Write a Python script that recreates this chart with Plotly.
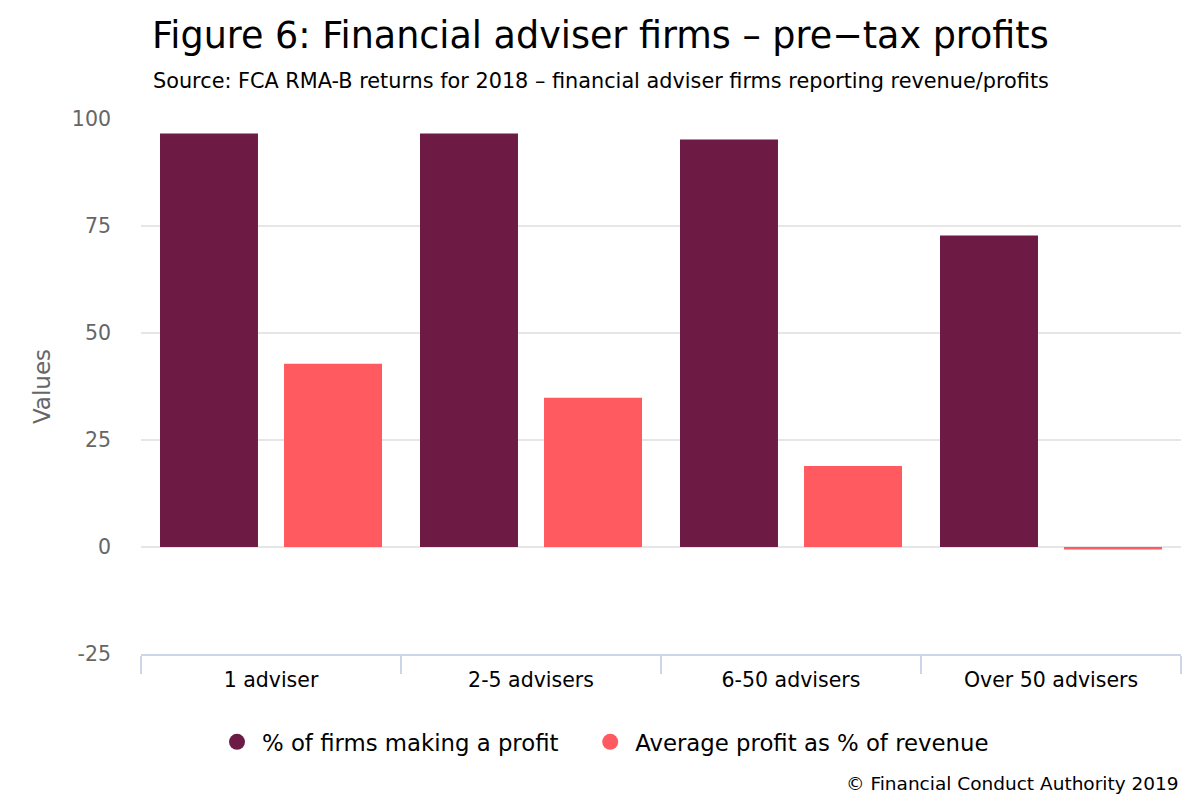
import plotly.graph_objects as go

categories = ["1 adviser", "2-5 advisers", "6-50 advisers", "Over 50 advisers"]
pct_firms_profit = [96.6, 96.6, 95.2, 72.8]
avg_profit_pct_revenue = [42.8, 34.9, 18.9, -0.6]
series_names = ["% of firms making a profit", "Average profit as % of revenue"]
colors = ["#6d1a45", "#ff5a5f"]
y_ticks = [-25, 0, 25, 50, 75, 100]

FONT = "DejaVu Sans, Verdana, sans-serif"
OFF = 8  # page body margin offset compensation
PAD = "\u00a0" * 3  # extra spacing between legend items

fig = go.Figure()
for vals, name, col in zip([pct_firms_profit, avg_profit_pct_revenue], series_names, colors):
    fig.add_trace(go.Bar(x=categories, y=vals, name=name, marker=dict(color=col, line=dict(width=0)),
                         showlegend=False))
for i, (name, col) in enumerate(zip(series_names, colors)):
    label = name + (PAD if i == 0 else "")
    fig.add_trace(go.Scatter(x=[None], y=[None], mode="markers", name=label,
                             marker=dict(color=col, size=22, symbol="circle"), showlegend=True))

fig.update_layout(
    width=1200, height=800,
    paper_bgcolor="white", plot_bgcolor="white",
    margin=dict(l=141 - OFF, r=19 + OFF, t=119 - OFF, b=146 + OFF, autoexpand=False),
    barmode="group", bargap=0.046, bargroupgap=0.21,
    font=dict(family=FONT, color="#000000"),
    title=dict(text="Figure 6: Financial adviser firms \u2013 pre\u2212tax profits",
               x=(152 - OFF)/1200, xanchor="left", xref="container",
               y=1-27/800, yanchor="middle", yref="container",
               font=dict(family=FONT, size=36.5, color="#000000")),
    legend=dict(orientation="h", xref="container", x=595/1200, xanchor="center",
                yref="container", y=1-734/800, yanchor="middle",
                font=dict(family=FONT, size=22.8, color="#000000"),
                itemwidth=40, traceorder="normal"),
    annotations=[
        dict(text="Source: FCA RMA-B returns for 2018 \u2013 financial adviser firms reporting revenue/profits",
             xref="paper", yref="paper", x=(151-141)/1040, y=1+(119-81)/535,
             xanchor="left", yanchor="middle", showarrow=False,
             font=dict(family=FONT, size=20.8, color="#000000")),
        dict(text="\u00a9 Financial Conduct Authority 2019",
             xref="paper", yref="paper", x=1, y=-(783-654)/535,
             xanchor="right", yanchor="middle", showarrow=False,
             font=dict(family=FONT, size=18.5, color="#000000")),
    ],
)

fig.update_xaxes(
    categoryorder="array", categoryarray=categories, automargin=False,
    showline=True, linecolor="#ccd6eb", linewidth=2,
    ticks="outside", tickson="boundaries", ticklen=18, tickcolor="#ccd6eb", tickwidth=2,
    ticklabelstandoff=6,
    showgrid=False, tickfont=dict(family=FONT, size=20.5, color="#000000"),
)
fig.update_yaxes(
    range=[-25, 100], tickvals=y_ticks, ticktext=[str(v) for v in y_ticks], automargin=False,
    showgrid=True, gridcolor="#e6e6e6", gridwidth=2,
    zeroline=True, zerolinecolor="#e6e6e6", zerolinewidth=2,
    showline=False, ticks="", ticklabelstandoff=29,
    tickfont=dict(family=FONT, size=20.5, color="#666666"),
    title=dict(text="Values", font=dict(family=FONT, size=23, color="#666666"), standoff=14),
)

fig.write_html("out.html")
